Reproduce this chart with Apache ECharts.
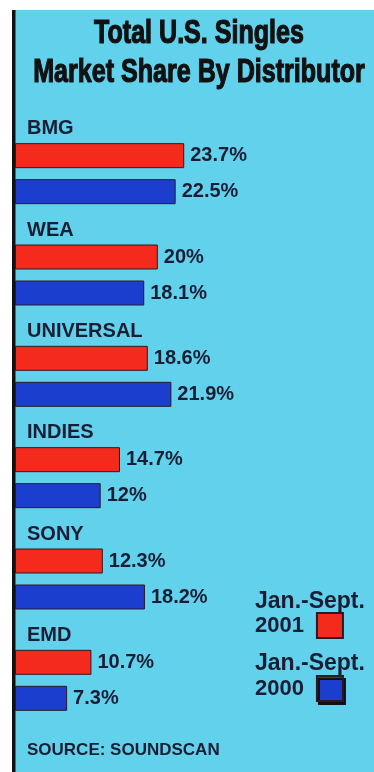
<!DOCTYPE html>
<html>
<head>
<meta charset="utf-8">
<script src="https://cdn.jsdelivr.net/npm/echarts@6/dist/echarts.min.js"></script>
<style>
html,body{margin:0;padding:0;background:#fff;}
#main{width:374px;height:772px;}
</style>
</head>
<body>
<div id="main"></div>
<script>
var titleLines = ['Total U.S. Singles', 'Market Share By Distributor'];
var categories = ['BMG', 'WEA', 'UNIVERSAL', 'INDIES', 'SONY', 'EMD'];
var seriesNames = ['Jan.-Sept. 2001', 'Jan.-Sept. 2000'];
var values2001 = [23.7, 20, 18.6, 14.7, 12.3, 10.7];
var values2000 = [22.5, 18.1, 21.9, 12, 18.2, 7.3];
var sourceText = 'SOURCE: SOUNDSCAN';

var BG = '#62d1ec';
var RED = '#f42b1c';
var BLUE = '#1c3ecf';
var INK = '#1a1d33';
var FONT = '"Liberation Sans", Arial, sans-serif';

var chart = echarts.init(document.getElementById('main'));

function barSeries(name, data, color) {
  return {
    name: name,
    type: 'bar',
    data: data,
    barWidth: 25,
    barGap: '44%',
    itemStyle: { color: color, borderColor: '#2b1a22', borderWidth: 1 },
    label: {
      show: true,
      position: 'right',
      distance: 6,
      formatter: '{c}%',
      fontFamily: FONT,
      fontWeight: 'bold',
      fontSize: 20,
      color: INK
    }
  };
}

function titleText(text, y) {
  return {
    type: 'text', x: 199, y: y, scaleX: 0.76,
    style: {
      text: text, fontFamily: FONT, fontWeight: 900, fontSize: 33,
      fill: '#111', stroke: '#111', lineWidth: 1.2,
      textAlign: 'center', textVerticalAlign: 'middle'
    }
  };
}

chart.setOption({
  backgroundColor: BG,
  animation: false,
  grid: { left: 15, right: 2, top: 123, height: 608 },
  xAxis: { type: 'value', min: 0, max: 50, show: false },
  yAxis: {
    type: 'category',
    inverse: true,
    data: categories,
    axisLine: { show: false },
    axisTick: { show: false },
    splitLine: { show: false },
    axisLabel: {
      inside: true,
      margin: 12,
      formatter: function (v) { return '{a|' + v + '}\n{s| }'; },
      rich: {
        a: { fontFamily: FONT, fontWeight: 'bold', fontSize: 20, lineHeight: 24, color: INK },
        s: { fontSize: 1, lineHeight: 90 }
      }
    }
  },
  legend: {
    orient: 'vertical',
    left: 255,
    top: 612,
    padding: 0,
    align: 'right',
    itemWidth: 26,
    itemHeight: 25,
    itemGap: 36,
    icon: 'rect',
    data: [
      { name: seriesNames[0] },
      { name: seriesNames[1], itemStyle: { shadowColor: '#111', shadowOffsetX: 2, shadowOffsetY: 3, shadowBlur: 0 } }
    ],
    formatter: function (n) { return n.replace('Jan.-Sept. ', ''); },
    textStyle: {
      fontFamily: FONT,
      fontWeight: 'bold',
      fontSize: 22,
      color: INK,
      padding: [0, 8, 0, 0]
    }
  },
  graphic: [
    { type: 'rect', shape: { x: 0, y: 0, width: 374, height: 10 }, style: { fill: '#fff' } },
    { type: 'rect', shape: { x: 0, y: 0, width: 12, height: 772 }, style: { fill: '#fff' } },
    { type: 'rect', shape: { x: 12, y: 10, width: 3.5, height: 762 }, style: { fill: '#111' } },
    titleText(titleLines[0], 34),
    titleText(titleLines[1], 73),
    {
      type: 'text', x: 255, y: 602,
      style: { text: seriesNames[0].split(' ')[0], fontFamily: FONT, fontWeight: 'bold', fontSize: 23, fill: INK, textAlign: 'left', textVerticalAlign: 'middle' }
    },
    {
      type: 'text', x: 255, y: 664,
      style: { text: seriesNames[1].split(' ')[0], fontFamily: FONT, fontWeight: 'bold', fontSize: 23, fill: INK, textAlign: 'left', textVerticalAlign: 'middle' }
    },
    {
      type: 'text', x: 27, y: 750,
      style: { text: sourceText, fontFamily: FONT, fontWeight: 'bold', fontSize: 17, fill: INK, textAlign: 'left', textVerticalAlign: 'middle' }
    }
  ],
  series: [
    barSeries(seriesNames[0], values2001, RED),
    barSeries(seriesNames[1], values2000, BLUE)
  ]
});
</script>
</body>
</html>
